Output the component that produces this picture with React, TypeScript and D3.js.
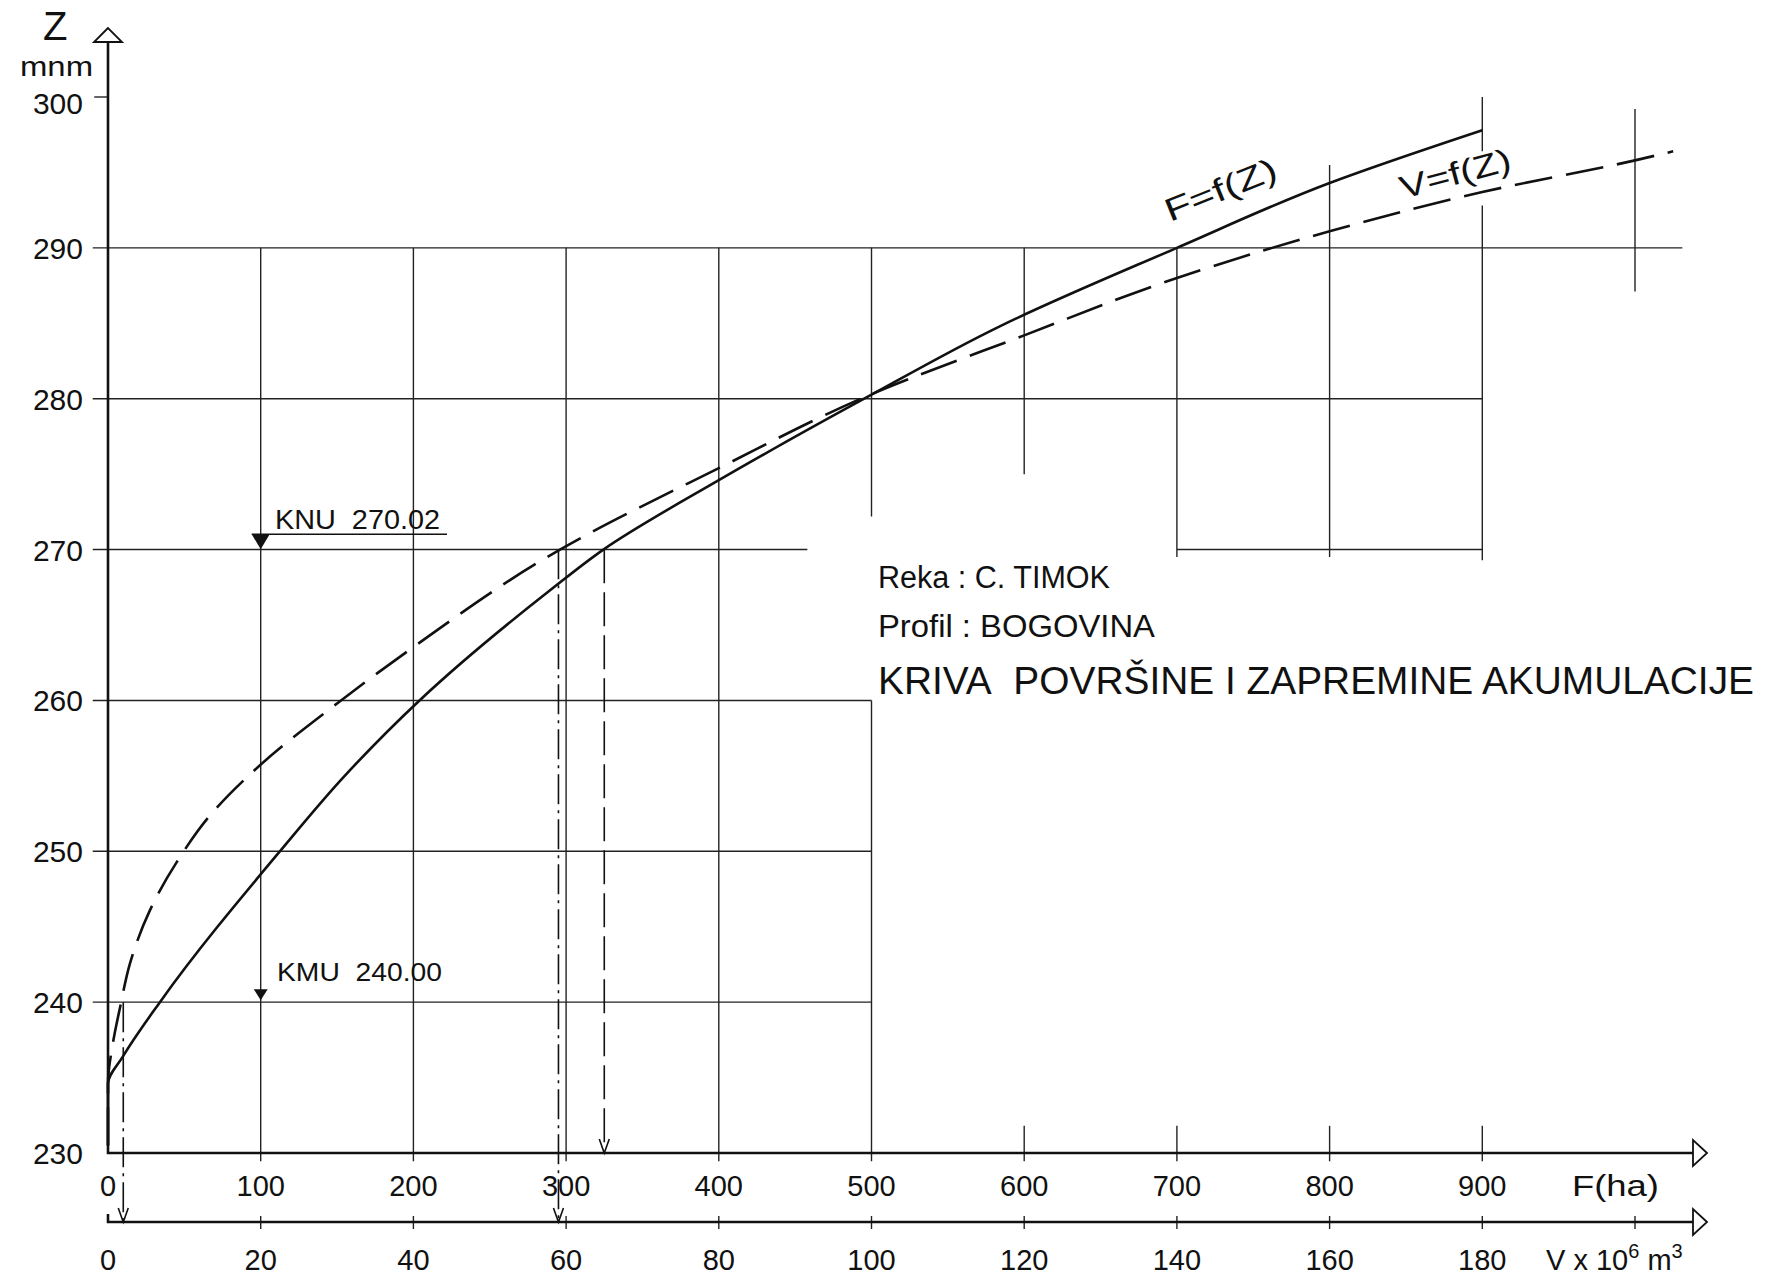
import React from 'react'
import * as d3 from 'd3'

// Z in m n.m.
const zTicks = [230, 240, 250, 260, 270, 280, 290, 300]
const fTicks = [0, 100, 200, 300, 400, 500, 600, 700, 800, 900]
const vTicks = [0, 20, 40, 60, 80, 100, 120, 140, 160, 180]

// F = f(Z), solid curve (ha)
const fCurveZ = [230.5, 234.6, 236.4, 240, 250, 255, 260, 267.3, 270, 274.6, 280.1, 284.8, 290, 294.3, 297.8]
const fCurveF = [0, 0, 9.8, 34, 112.6, 155, 204, 289.5, 324.4, 400, 497, 584, 700, 800, 900]

// V = f(Z), dashed curve (10^6 m3)
const vCurveZ = [230.5, 234.6, 237.3, 239.7, 242.6, 246.1, 249.6, 252.4, 255.7, 259.8, 263.5, 270, 275.4, 280.3, 284.2, 288.0, 291.1, 293.7, 295.8, 296.4]
const vCurveV = [0, 0, 0.65, 1.6, 2.9, 5.5, 9.4, 13.4, 19.9, 30, 39.9, 59.2, 80, 100, 120, 140, 160, 180, 200, 205]

// levels
const knuZ = 270.02
const knuF = 325
const knuV = 59
const kmuZ = 240.0
const kmuV = 2

const font = "'Liberation Sans', Arial, sans-serif"
const ink = '#111'
const sp = '\u00a0'

function App() {
  const xF = d3.scaleLinear().domain([0, 1000]).range([108, 1635])
  const xV = d3.scaleLinear().domain([0, 200]).range([108, 1635])
  const yZ = d3.scaleLinear().domain([230, 300]).range([1153, 97])
  const axisY = yZ(230)
  const vAxisY = 1222
  const arrowX = 1707

  const fPath = d3
    .line<number>()
    .x((d, i) => xF(fCurveF[i]))
    .y(d => yZ(d))
    .curve(d3.curveMonotoneY)(fCurveZ)

  const vPath = d3
    .line<number>()
    .x((d, i) => xV(vCurveV[i]))
    .y(d => yZ(d))
    .curve(d3.curveMonotoneY)(vCurveZ)

  // grid pieces, in data units: [Z, F from, F to] and [F, Z from, Z to]
  const gridH = [
    [290, -10, 1031],
    [280, -10, 900],
    [270, -10, 458],
    [270, 700, 900],
    [260, -10, 500],
    [250, -10, 500],
    [240, -10, 500],
    [300, -9, 0]
  ]
  const gridV = [
    [100, 290, 229.45],
    [200, 290, 229.45],
    [300, 290, 229.45],
    [400, 290, 229.45],
    [500, 290, 272.2],
    [500, 260, 229.45],
    [600, 290, 275],
    [600, 231.8, 229.45],
    [700, 290, 269.5],
    [700, 231.8, 229.45],
    [800, 295.5, 269.5],
    [800, 231.8, 229.45],
    [900, 300, 296.4],
    [900, 292.8, 269.3],
    [900, 231.8, 229.45],
    [1000, 299.2, 287.1]
  ]

  const arrowDown = (x: number, y: number) => `M${x - 5},${y - 14} L${x},${y} L${x + 5},${y - 14}`

  return (
    <svg
      width={1767}
      height={1280}
      style={{ position: 'absolute', left: 0, top: 0, background: '#fff' }}
      fontFamily={font}
      fill={ink}
    >
      <rect width={1767} height={1280} fill="#fff" />

      {/* grid */}
      <g stroke="#222" strokeWidth={1.4}>
        {gridH.map((d, i) => (
          <line key={'h' + i} x1={xF(d[1])} x2={xF(d[2])} y1={yZ(d[0])} y2={yZ(d[0])} />
        ))}
        {gridV.map((d, i) => (
          <line key={'v' + i} x1={xF(d[0])} x2={xF(d[0])} y1={yZ(d[1])} y2={yZ(d[2])} />
        ))}
        {vTicks.slice(1).concat([200]).map(t => (
          <line key={'vt' + t} x1={xV(t)} x2={xV(t)} y1={vAxisY - 6} y2={vAxisY + 7} />
        ))}
      </g>

      {/* axes */}
      <g stroke={ink} strokeWidth={2.6} fill="none">
        <path d={`M${xF(0)},42 V${axisY} H${arrowX - 14}`} />
        <path d={`M${xV(0)},${vAxisY - 8} V${vAxisY} H${arrowX - 14}`} />
      </g>
      <g stroke={ink} strokeWidth={1.8} fill="#fff">
        <polygon points={`${xF(0)},28 ${xF(0) - 14},42 ${xF(0) + 14},42`} />
        <polygon points={`${arrowX},${axisY} ${arrowX - 14},${axisY - 13} ${arrowX - 14},${axisY + 13}`} />
        <polygon points={`${arrowX},${vAxisY} ${arrowX - 14},${vAxisY - 13} ${arrowX - 14},${vAxisY + 13}`} />
      </g>

      {/* reading lines from KNU / KMU down to the axes */}
      <g stroke={ink} strokeWidth={1.6} fill="none">
        <line x1={xF(knuF)} x2={xF(knuF)} y1={yZ(knuZ)} y2={axisY} strokeDasharray="34 9" />
        <path d={arrowDown(xF(knuF), axisY)} />
        <line x1={xV(knuV)} x2={xV(knuV)} y1={yZ(knuZ)} y2={vAxisY} strokeDasharray="30 6 3 6" />
        <path d={arrowDown(xV(knuV), vAxisY)} />
        <line x1={xV(kmuV)} x2={xV(kmuV)} y1={yZ(kmuZ)} y2={vAxisY} strokeDasharray="30 6 3 6" />
        <path d={arrowDown(xV(kmuV), vAxisY)} />
      </g>

      {/* curves */}
      <path d={fPath || ''} fill="none" stroke={ink} strokeWidth={2.6} />
      <path d={vPath || ''} fill="none" stroke={ink} strokeWidth={2.6} strokeDasharray="38 14" />

      {/* Z axis labels */}
      <text x={43} y={40} fontSize={40}>Z</text>
      <text x={20} y={76} fontSize={27} textLength={73} lengthAdjust="spacingAndGlyphs">mnm</text>
      {zTicks.map(t => (
        <text key={'z' + t} x={83} y={yZ(t) + (t === 300 ? 17 : 11)} fontSize={30} textAnchor="end">
          {t}
        </text>
      ))}

      {/* F axis labels */}
      {fTicks.map(t => (
        <text key={'f' + t} x={xF(t)} y={1196} fontSize={29} textAnchor="middle">
          {t}
        </text>
      ))}
      <text x={1572} y={1196} fontSize={29} textLength={87} lengthAdjust="spacingAndGlyphs">F(ha)</text>

      {/* V axis labels */}
      {vTicks.map(t => (
        <text key={'vv' + t} x={xV(t)} y={1270} fontSize={29} textAnchor="middle">
          {t}
        </text>
      ))}
      <text x={1546} y={1270} fontSize={29}>
        <tspan>{`V${sp}x${sp}10`}</tspan>
        <tspan fontSize={20} dy={-12}>6</tspan>
        <tspan dy={12}>{`${sp}m`}</tspan>
        <tspan fontSize={20} dy={-12}>3</tspan>
      </text>

      {/* KNU / KMU */}
      <polygon
        points={`${xF(100) - 9},${yZ(knuZ) - 15} ${xF(100) + 9},${yZ(knuZ) - 15} ${xF(100)},${yZ(knuZ)}`}
        fill={ink}
      />
      <line x1={xF(100) - 9} x2={447} y1={yZ(knuZ) - 15} y2={yZ(knuZ) - 15} stroke={ink} strokeWidth={1.6} />
      <text x={275} y={yZ(knuZ) - 20} fontSize={27} textLength={165} lengthAdjust="spacingAndGlyphs">
        {`KNU${sp}${sp}270.02`}
      </text>
      <polygon
        points={`${xF(100) - 7},${yZ(kmuZ) - 13} ${xF(100) + 7},${yZ(kmuZ) - 13} ${xF(100)},${yZ(kmuZ) - 2}`}
        fill={ink}
      />
      <text x={277} y={yZ(kmuZ) - 21} fontSize={26} textLength={165} lengthAdjust="spacingAndGlyphs">
        {`KMU${sp}${sp}240.00`}
      </text>

      {/* curve names */}
      <text x={1170} y={222} fontSize={32} transform="rotate(-22 1170 222)" textLength={118} lengthAdjust="spacingAndGlyphs">
        F=f(Z)
      </text>
      <text x={1403} y={199} fontSize={32} transform="rotate(-15 1403 199)" textLength={114} lengthAdjust="spacingAndGlyphs">
        V=f(Z)
      </text>

      {/* title block */}
      <text x={878} y={588} fontSize={31} textLength={232} lengthAdjust="spacingAndGlyphs">Reka : C. TIMOK</text>
      <text x={878} y={637} fontSize={31} textLength={277} lengthAdjust="spacingAndGlyphs">Profil : BOGOVINA</text>
      <text x={878} y={694} fontSize={38} textLength={876} lengthAdjust="spacingAndGlyphs">
        {`KRIVA${sp}${sp}POVRŠINE I ZAPREMINE AKUMULACIJE`}
      </text>
    </svg>
  )
}

export default App
